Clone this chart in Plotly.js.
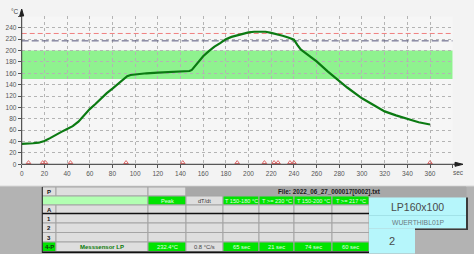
<!DOCTYPE html>
<html><head><meta charset="utf-8">
<script src="https://cdn.plot.ly/plotly-3.0.1.min.js"></script>
<style>html,body{margin:0;padding:0;background:#f3f3f3;}#chart{width:474px;height:254px;}</style>
</head><body><div id="chart"></div>
<script>
// ---- data ----
const timeSec = [0,5,10,15,20,25,30,35,40,45,50,55,60,65,70,75,80,85,90,93,96,100,110,120,130,140,148,150,153,156,160,165,170,175,180,185,190,195,200,205,210,215,220,225,230,235,240,243,246,250,260,270,278,287,300,310,320,330,340,350,360];
const tempC   = [36,36,37,38,41,46,52,57,62,67,75,86,97,106,116,125,133,141,150,155,157,158,160,161,162,163,164,166,173,181,190,199,207,213,220,224,227,230,232,233,233,233,231,229,226,223,219,210,202,196,181,163,149,135,116,104,93,86,80,74,70];
const markerSec = [6,18.5,21,43,92,142,190,214,222.5,226,236.5,240,360];
const xTickVals = [0,20,40,60,80,100,120,140,160,180,200,220,240,260,280,300,320,340,360,380];
const xTickText = ['0','20','40','60','80','100','120','140','160','180','200','220','240','260','280','300','320','340','360',''];
const yTickVals = [0,20,40,60,80,100,120,140,160,180,200,220,240,260];
const yTickText = ['0','20','40','60','80','100','120','140','160','180','200','220','240',''];
const bandLow = 150, bandHigh = 200;
const limitHigh = 230, limitLiquidus = 217;
const limitSpan = [0, 380];
const tableHeaders = ['Peak','dT/dt','T 150-180 °C','T >= 230 °C','T 150-200 °C','T >= 217 °C'];
const rowLabels = ['P','','A','1','2','3','4-P'];
const sensorName = 'Messsensor LP';
const sensorValues = ['232.4°C','0.8 °C/s','65 sec','21 sec','74 sec','60 sec'];
const fileName = 'File: 2022_06_27_000017[0002].txt';
const boardName = 'LP160x100';
const companyName = 'WUERTHIBL01P';
const boardNum = '2';

// ---- layout helpers (pixels -> paper) ----
const W = 474, H = 254;
const X = p => p / W, Y = p => 1 - p / H;
const FONT = 'Liberation Sans, Arial, sans-serif';
const shapes = [], ann = [];
function rect(x0,y0,x1,y1,fill,line,lw){ shapes.push({type:'rect',xref:'paper',yref:'paper',x0:X(x0),x1:X(x1),y0:Y(y1),y1:Y(y0),fillcolor:fill,line:{color:line||fill,width:lw===undefined?1:lw}}); }
function line(x0,y0,x1,y1,color,w){ shapes.push({type:'line',xref:'paper',yref:'paper',x0:X(x0),x1:X(x1),y0:Y(y0),y1:Y(y1),line:{color:color,width:w}}); }
function txt(x,y,t,size,color,bold,anchor){ ann.push({xref:'paper',yref:'paper',x:X(x),y:Y(y),text:bold?'<b>'+t+'</b>':t,showarrow:false,xanchor:anchor||'center',yanchor:'middle',font:{family:FONT,size:size,color:color}}); }

// chart-area band
shapes.push({type:'rect',xref:'x',yref:'y',x0:0,x1:380,y0:bandLow,y1:bandHigh,fillcolor:'#8ff28f',line:{width:0},layer:'below'});

// axes with arrows
const ax0 = 21.7, ay0 = 164.3;
line(ax0, ay0, ax0, 12, '#303030', 1);
shapes.push({type:'path',xref:'paper',yref:'paper',path:`M ${X(ax0-2)} ${Y(16)} L ${X(ax0+2)} ${Y(16)} L ${X(ax0)} ${Y(9)} Z`,fillcolor:'#202020',line:{color:'#202020',width:1}});
line(ax0, ay0, 456, ay0, '#303030', 1);
shapes.push({type:'path',xref:'paper',yref:'paper',path:`M ${X(455)} ${Y(ay0-2)} L ${X(455)} ${Y(ay0+2)} L ${X(463)} ${Y(ay0)} Z`,fillcolor:'#202020',line:{color:'#202020',width:1}});
txt(14.5, 11, '°C', 6.5, '#444');
txt(458, 172.5, 'sec', 6.5, '#555');

// ---- table ----
rect(0, 186, W, H, '#b3b3b3', '#b3b3b3', 0);
line(0, 186, W, 186, '#d8d8d8', 1);
const colEdges = [42,56,148,186,223,259,294,332,369];
const rowEdges = [187,196,205,213.5,223,232.5,242,251.5];
const LG = '#dedede', BG = '#00e400', PG = '#b2ffb2', BORDER = '#a4a4a4';
rect(42,187,56,196,LG,BORDER);
rect(56,187,148,196,LG,BORDER);
rect(148,187,186,196,LG,BORDER);
rect(186,187,466,197,'#a8a8a8','#a8a8a8');
txt(329, 191.8, fileName, 6.3, '#1a1a1a', true);
rect(42,196,148,205,PG,BORDER);
for (let i=0;i<tableHeaders.length;i++){
  const c = i+2;
  const fill = (i===1)?LG:BG;
  rect(colEdges[c],196,colEdges[c+1],205,fill,BORDER);
  txt((colEdges[c]+colEdges[c+1])/2,200.7,tableHeaders[i],5.6,(i===1)?'#333':'#e6ffe6');
}
for (let r=2;r<6;r++){
  for (let c=0;c<8;c++){
    rect(colEdges[c],rowEdges[r],colEdges[c+1],rowEdges[r+1],LG,BORDER);
  }
  txt(49,(rowEdges[r]+rowEdges[r+1])/2+0.3,rowLabels[r],6,'#111',true);
}
txt(49,191.8,rowLabels[0],6,'#111',true);
rect(42,242,56,251.5,BG,BORDER);
txt(49,247,rowLabels[6],6,'#113311',true);
rect(56,242,148,251.5,LG,BORDER);
txt(102,247,sensorName,6,'#0a7a0a',true);
for (let i=0;i<sensorValues.length;i++){
  const c=i+2;
  const fill=(i===1)?LG:BG;
  rect(colEdges[c],242,colEdges[c+1],251.5,fill,BORDER);
  txt((colEdges[c]+colEdges[c+1])/2,247,sensorValues[i],5.8,(i===1)?'#444':'#e6ffe6');
}
line(42,213.5,369,213.5,'#111',1.5);
line(42,252.3,369,252.3,'#111',1.5);
line(42.3,187,42.3,253,'#222',1);
rect(369,197.5,466,215.6,'#b6f6fb','#b6f6fb',0);
line(369,215.6,466,215.6,'#8ccfd6',1);
rect(369,215.6,466,228.5,'#b6f6fb','#b6f6fb',0);
rect(369,228.5,415,253.5,'#b6f6fb','#b6f6fb',0);
line(467,197.5,467,229.5,'#3a3a3a',2);
line(415,229.3,468,229.3,'#3a3a3a',1.5);
txt(417.5,206.5,boardName,10.5,'#4a4a4a');
txt(417.5,222,companyName,6.8,'#6a7a80');
txt(392,240.5,boardNum,11,'#4a4a4a');

const traces = [
  {x:limitSpan,y:[limitHigh,limitHigh],type:'scatter',mode:'lines',line:{color:'#f08080',width:1,dash:'5px,3px'},hoverinfo:'skip'},
  {x:limitSpan,y:[limitLiquidus,limitLiquidus],type:'scatter',mode:'lines',line:{color:'#55557a',width:1,dash:'7px,3px'},hoverinfo:'skip'},
  {x:timeSec,y:tempC,type:'scatter',mode:'lines',line:{color:'#0b7a12',width:2.2},hoverinfo:'skip'},
  {x:markerSec,y:markerSec.map(()=>3),type:'scatter',mode:'markers',marker:{symbol:'triangle-up-open',size:4,color:'#e06a6a',line:{width:1}},hoverinfo:'skip'}
];
const gridStyle = {gridcolor:'#b4b4b4',griddash:'dot',gridwidth:1};
const layout = {
  width:W,height:H,autosize:false,margin:{l:0,r:0,t:0,b:0},
  paper_bgcolor:'#f3f3f3',plot_bgcolor:'#f6f6f6',showlegend:false,
  font:{family:FONT,size:6.5,color:'#555'},
  xaxis:Object.assign({domain:[X(21.7),X(452.7)],range:[0,380],tickvals:xTickVals,ticktext:xTickText,ticks:'outside',ticklen:3,tickcolor:'#555',showline:false,zeroline:false,tickfont:{size:6.5,color:'#555'},fixedrange:true},gridStyle),
  yaxis:Object.assign({domain:[Y(164.3),Y(16.4)],range:[0,260],tickvals:yTickVals,ticktext:yTickText,ticks:'outside',ticklen:3,tickcolor:'#555',showline:false,zeroline:false,tickfont:{size:6.5,color:'#555'},fixedrange:true},gridStyle),
  shapes:shapes,annotations:ann
};
Plotly.newPlot('chart',traces,layout,{staticPlot:true,displayModeBar:false});
</script></body></html>
